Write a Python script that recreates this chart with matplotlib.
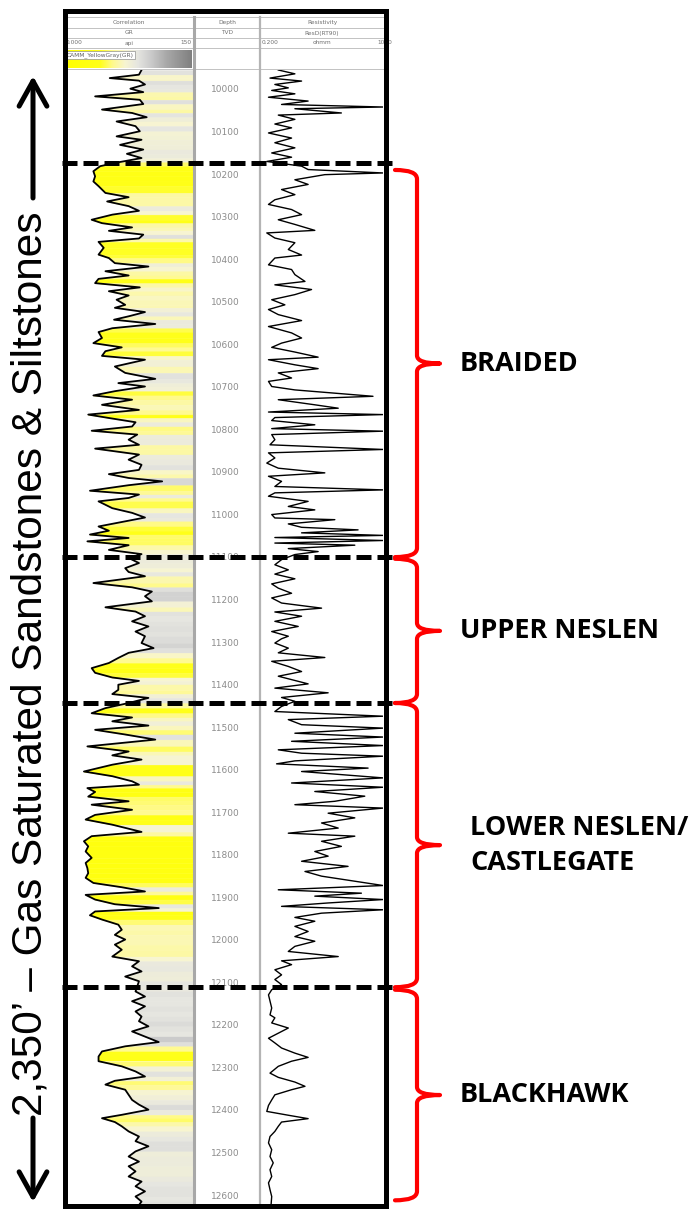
import numpy as np
import matplotlib.pyplot as plt
from matplotlib.colors import LinearSegmentedColormap
from matplotlib.path import Path
from matplotlib.patches import PathPatch, Rectangle

W, H = 698, 1209
TOP_DEPTH, BASE_DEPTH = 9953, 12621

# GR curve (api)
gr_depth = [9953, 9964, 9972, 9978, 9987, 9997, 10005, 10015, 10023, 10033, 10046, 10054, 10064, 10074,
            10085, 10097, 10109, 10117, 10129, 10140, 10150, 10160, 10170, 10179, 10191, 10203, 10215,
            10226, 10242, 10252, 10262, 10273, 10284, 10293, 10305, 10313, 10323, 10331, 10340, 10349,
            10357, 10371, 10387, 10395, 10407, 10415, 10426, 10436, 10444, 10454, 10464, 10473, 10483,
            10493, 10505, 10512, 10522, 10532, 10540, 10550, 10560, 10569, 10583, 10595, 10605, 10614,
            10625, 10634, 10650, 10665, 10679, 10689, 10697, 10708, 10718, 10728, 10740, 10752, 10763,
            10771, 10781, 10791, 10801, 10810, 10822, 10834, 10843, 10857, 10869, 10881, 10893, 10903,
            10912, 10920, 10929, 10942, 10951, 10959, 10967, 10983, 10994, 11005, 11014, 11026, 11036,
            11045, 11053, 11061, 11070, 11081, 11091, 11100, 11112, 11124, 11133, 11143, 11159, 11169,
            11179, 11190, 11202, 11216, 11226, 11237, 11249, 11261, 11273, 11284, 11300, 11312, 11323,
            11335, 11347, 11359, 11370, 11381, 11389, 11398, 11410, 11420, 11429, 11441, 11453, 11465,
            11475, 11484, 11494, 11504, 11515, 11527, 11543, 11555, 11564, 11574, 11586, 11602, 11613,
            11625, 11633, 11641, 11650, 11661, 11672, 11680, 11692, 11704, 11715, 11727, 11744, 11754,
            11766, 11778, 11790, 11805, 11817, 11829, 11841, 11852, 11864, 11874, 11884, 11892, 11903,
            11914, 11923, 11931, 11940, 11950, 11962, 11974, 11986, 11997, 12009, 12021, 12037, 12048,
            12060, 12072, 12084, 12095, 12107, 12119, 12131, 12142, 12154, 12166, 12178, 12189, 12201,
            12213, 12225, 12238, 12248, 12260, 12272, 12283, 12295, 12307, 12319, 12329, 12338, 12350,
            12362, 12374, 12385, 12397, 12409, 12417, 12426, 12436, 12448, 12460, 12471, 12483, 12495,
            12507, 12519, 12530, 12542, 12554, 12566, 12577, 12589, 12601, 12613, 12621]
gr_api = [89, 86, 52, 86, 93, 76, 91, 35, 87, 91, 43, 78, 95, 60,
          82, 87, 60, 89, 64, 91, 72, 89, 62, 41, 33, 35, 33,
          39, 47, 74, 49, 74, 86, 55, 31, 43, 78, 51, 91, 86,
          39, 45, 39, 51, 58, 97, 47, 74, 39, 35, 87, 51, 74,
          60, 70, 58, 93, 74, 57, 105, 55, 39, 43, 33, 66, 47,
          43, 93, 58, 70, 105, 62, 93, 58, 33, 78, 43, 86, 27,
          51, 82, 78, 31, 84, 74, 86, 35, 86, 74, 89, 86, 51,
          74, 113, 74, 29, 86, 74, 39, 55, 78, 93, 70, 39, 51,
          29, 74, 26, 74, 51, 89, 74, 86, 70, 74, 93, 33, 78,
          101, 93, 101, 47, 82, 93, 78, 97, 82, 93, 89, 103, 74,
          62, 51, 31, 35, 55, 86, 62, 62, 55, 97, 74, 47, 31,
          78, 55, 97, 35, 70, 105, 26, 74, 55, 89, 55, 22, 55,
          78, 86, 26, 35, 27, 74, 31, 78, 35, 24, 55, 89, 31,
          22, 27, 24, 31, 24, 26, 27, 24, 33, 66, 93, 24, 35,
          58, 109, 35, 29, 43, 62, 66, 58, 70, 58, 66, 55, 86,
          78, 89, 70, 86, 84, 82, 93, 78, 93, 82, 89, 86, 97,
          78, 93, 109, 70, 43, 39, 39, 66, 82, 93, 58, 47, 70,
          74, 78, 86, 97, 66, 43, 58, 66, 74, 86, 82, 97, 82,
          74, 86, 74, 82, 74, 89, 82, 93, 82, 89, 86]

# deep resistivity (ohmm)
res_depth = [9953, 9962, 9972, 9979, 9987, 9995, 10001, 10009, 10017, 10026, 10034, 10040, 10044, 10054,
             10059, 10069, 10080, 10089, 10101, 10113, 10124, 10136, 10148, 10158, 10168, 10179, 10187,
             10195, 10199, 10211, 10222, 10234, 10246, 10258, 10269, 10281, 10293, 10305, 10316, 10330,
             10336, 10348, 10359, 10375, 10388, 10395, 10411, 10422, 10434, 10450, 10458, 10469, 10481,
             10493, 10505, 10516, 10528, 10542, 10556, 10571, 10583, 10595, 10605, 10616, 10628, 10634,
             10646, 10655, 10665, 10677, 10685, 10697, 10705, 10720, 10728, 10740, 10748, 10757, 10763,
             10770, 10777, 10787, 10796, 10802, 10810, 10822, 10834, 10845, 10853, 10865, 10877, 10889,
             10900, 10908, 10920, 10932, 10940, 10947, 10955, 10967, 10979, 10987, 10998, 11006, 11010,
             11020, 11028, 11034, 11041, 11047, 11052, 11059, 11065, 11070, 11078, 11085, 11092, 11104,
             11116, 11128, 11138, 11149, 11161, 11171, 11183, 11194, 11206, 11218, 11227, 11237, 11249,
             11261, 11273, 11284, 11290, 11300, 11312, 11323, 11334, 11343, 11355, 11367, 11378, 11386,
             11396, 11406, 11417, 11428, 11437, 11449, 11461, 11472, 11480, 11492, 11500, 11512, 11521,
             11531, 11541, 11551, 11559, 11566, 11577, 11584, 11594, 11602, 11617, 11629, 11639, 11649,
             11660, 11672, 11680, 11688, 11700, 11711, 11723, 11735, 11747, 11754, 11766, 11778, 11790,
             11801, 11813, 11825, 11837, 11848, 11860, 11870, 11880, 11888, 11895, 11903, 11911, 11919,
             11927, 11935, 11945, 11954, 11966, 11978, 11990, 12001, 12013, 12025, 12037, 12047, 12056,
             12068, 12080, 12091, 12103, 12115, 12127, 12142, 12158, 12174, 12181, 12193, 12205, 12217,
             12229, 12240, 12252, 12264, 12274, 12283, 12295, 12311, 12321, 12332, 12342, 12350, 12362,
             12374, 12387, 12401, 12410, 12418, 12426, 12436, 12448, 12460, 12475, 12491, 12507, 12522,
             12538, 12554, 12569, 12585, 12601, 12621]
res_ohmm = [0.71, 2.24, 0.40, 3.56, 0.56, 1.42, 0.45, 2.24, 0.36, 5.6, 0.89, 1000, 2.24, 56,
            0.71, 2.24, 0.56, 1.78, 0.36, 1.78, 0.56, 2.24, 0.45, 1.78, 0.32, 3.56, 5.6,
            1000, 17.8, 2.24, 5.6, 0.89, 2.24, 0.56, 0.36, 1.78, 3.56, 0.71, 2.24, 8.9,
            0.32, 0.56, 2.24, 1.42, 3.56, 0.56, 0.36, 1.78, 2.24, 4.5, 0.56, 7.1, 2.24,
            0.45, 1.12, 0.36, 0.71, 3.56, 0.36, 1.78, 3.56, 0.89, 0.45, 2.24, 11.2, 0.36,
            2.24, 11.2, 0.71, 1.78, 0.36, 0.45, 2.24, 500, 0.71, 8.9, 45, 0.36, 1000,
            0.56, 0.45, 8.9, 0.45, 1000, 0.45, 0.56, 0.40, 1000, 0.36, 0.56, 0.32, 0.71,
            17.8, 0.36, 0.89, 0.56, 1000, 0.56, 0.36, 5.6, 1.42, 8.9, 0.45, 0.56, 35.6,
            1.42, 3.56, 178, 3.56, 1000, 0.56, 1000, 0.56, 142, 1.42, 11.2, 2.24, 0.89,
            0.56, 1.42, 0.56, 2.24, 0.45, 0.71, 1.78, 0.45, 0.89, 14.2, 0.56, 3.56, 0.56,
            2.82, 0.45, 1.42, 0.89, 0.56, 1.42, 0.71, 17.8, 0.45, 1.42, 3.56, 0.71, 1.78,
            5.6, 0.56, 22.4, 0.89, 2.24, 0.89, 0.56, 1000, 1.42, 3.56, 1000, 2.24, 1000,
            1.78, 1000, 0.71, 3.56, 1000, 2.24, 0.63, 356, 3.56, 1000, 1.78, 1000, 8.9,
            283, 35.6, 2.24, 1000, 22.4, 142, 14.2, 45, 1.42, 142, 14.2, 56, 8.9,
            22.4, 3.56, 89, 4.5, 14.2, 142, 1000, 0.71, 224, 8.9, 1000, 22.4, 0.89,
            1000, 14.2, 2.24, 8.9, 2.24, 5.6, 2.24, 8.9, 2.24, 1.42, 45, 0.89, 1.78,
            0.56, 0.89, 0.56, 0.89, 0.45, 0.36, 0.40, 0.45, 0.40, 0.56, 0.45, 1.42, 0.71,
            0.36, 0.56, 0.89, 2.24, 5.6, 1.78, 0.71, 0.40, 0.71, 2.24, 4.5, 1.78, 0.56,
            0.45, 0.36, 0.32, 1.42, 5.6, 0.89, 0.71, 0.56, 0.40, 0.36, 0.45, 0.40, 0.50,
            0.40, 0.45, 0.36, 0.40, 0.45, 0.43]

depth_labels = list(range(10000, 12601, 100))
formation_tops = [10172, 11098, 11441, 12109]
zone_names = ["BRAIDED", "UPPER NESLEN", "LOWER NESLEN/\nCASTLEGATE", "BLACKHAWK"]
zone_top = [10188, 11102, 11441, 12115]
zone_base = [11098, 11441, 12109, 12610]
label_x = [460, 460, 470, 460]

gr_cmap = LinearSegmentedColormap.from_list("yellowgray", [
    (0.0, (1.0, 1.0, 0.0)), (0.27, (1.0, 1.0, 0.1)), (0.37, (1.0, 0.98, 0.55)),
    (0.47, (0.97, 0.96, 0.82)), (0.57, (0.90, 0.90, 0.88)), (0.67, (0.80, 0.80, 0.80)),
    (0.8, (0.66, 0.66, 0.66)), (1.0, (0.5, 0.5, 0.5))])


def box(x0, x1, y0=70, y1=1205):
    return [x0 / W, 1 - y1 / H, (x1 - x0) / W, (y1 - y0) / H]


fig = plt.figure(figsize=(W / 100, H / 100), dpi=100)

ax_gr = fig.add_axes(box(65, 194))
ax_dp = fig.add_axes(box(194, 260))
ax_rs = fig.add_axes(box(260, 383))
for ax in (ax_gr, ax_dp, ax_rs):
    ax.set_ylim(BASE_DEPTH, TOP_DEPTH)
    ax.axis("off")

# GR track: coloured fill from curve to the right edge
for i in range(len(gr_depth) - 1):
    c = gr_cmap((gr_api[i] + gr_api[i + 1]) / 2 / 150)
    ax_gr.fill_betweenx(gr_depth[i:i + 2], gr_api[i:i + 2], 150, color=c, lw=0.3, ec=c)
ax_gr.plot(gr_api, gr_depth, color="k", lw=1.3)
ax_gr.set_xlim(0, 150)

ax_dp.set_xlim(0, 1)
for d in depth_labels:
    ax_dp.text(0.47, d, str(d), ha="center", va="center", fontsize=6.5, color="#8c8c8c")

ax_rs.plot(res_ohmm, res_depth, color="k", lw=1.0)
ax_rs.set_xscale("log")
ax_rs.set_xlim(0.2, 1000)

# pixel overlay for header, frame, arrows
ax_px = fig.add_axes([0, 0, 1, 1], zorder=5)
ax_px.set_xlim(0, W)
ax_px.set_ylim(H, 0)
ax_px.axis("off")

grid_c = "#b8b8b8"
for y in [17, 28, 38, 48, 69]:
    ax_px.plot([64, 386], [y, y], color=grid_c, lw=0.6)
ax_px.plot([194, 194], [17, 1205], color="#a8a8a8", lw=2.2)
ax_px.plot([260, 260], [17, 1205], color="#b4b4b4", lw=1.6)

hdr = dict(fontsize=4.2, color="#707070", va="center")
ax_px.text(129, 22.5, "Correlation", ha="center", **hdr)
ax_px.text(227, 22.5, "Depth", ha="center", **hdr)
ax_px.text(322, 22.5, "Resistivity", ha="center", **hdr)
ax_px.text(129, 33, "GR", ha="center", **hdr)
ax_px.text(227, 33, "TVD", ha="center", **hdr)
ax_px.text(322, 33, "ResD(RT90)", ha="center", **hdr)
ax_px.text(66, 43, "0.000", ha="left", **hdr)
ax_px.text(129, 43, "api", ha="center", **hdr)
ax_px.text(192, 43, "150", ha="right", **hdr)
ax_px.text(262, 43, "0.200", ha="left", **hdr)
ax_px.text(322, 43, "ohmm", ha="center", **hdr)
ax_px.text(392, 43, "1000", ha="right", **hdr)

grad = np.linspace(0, 1, 256)[None, :]
ax_px.imshow(grad, cmap=gr_cmap, extent=(66, 192, 68, 50), aspect="auto", zorder=1)
ax_px.text(67, 55, "CAMM_YellowGray(GR)", ha="left", fontsize=4.2, color="#606060", va="center",
           bbox=dict(boxstyle="square,pad=0.15", fc="white", ec="#909090", lw=0.5))

ax_px.add_patch(Rectangle((64.5, 10.5), 321, 1195, fill=False, ec="k", lw=3.6, zorder=4))

arrow = dict(arrowstyle="->,head_length=0.9,head_width=0.5", lw=3.6, color="k",
             shrinkA=0, shrinkB=0, mutation_scale=20)
ax_px.annotate("", xy=(33, 76), xytext=(33, 198), arrowprops=arrow)
ax_px.annotate("", xy=(33, 1202), xytext=(33, 1118), arrowprops=arrow)
ax_px.text(31, 664, "2,350\u2019 \u2013 Gas Saturated Sandstones & Siltstones", rotation=90,
           ha="center", va="center", fontsize=30.5, family="Liberation Sans")

# overlay in depth coordinates: formation tops, braces, zone names
ax_ov = fig.add_axes(box(0, W), zorder=6)
ax_ov.set_xlim(0, W)
ax_ov.set_ylim(BASE_DEPTH, TOP_DEPTH)
ax_ov.axis("off")
ax_ov.hlines(formation_tops, 62, 393, colors="k", lw=3.6, linestyles=(0, (3, 1.2)))

ft = 1 / 0.4254  # feet per pixel
for name, d0, d1, lx in zip(zone_names, zone_top, zone_base, label_x):
    dm = (d0 + d1) / 2
    verts = [(395, d0), (417, d0), (417, d0 + 9 * ft), (417, dm - 8 * ft), (417, dm), (440, dm),
             (417, dm), (417, dm + 8 * ft), (417, d1 - 9 * ft), (417, d1), (395, d1)]
    codes = [Path.MOVETO, Path.CURVE3, Path.CURVE3, Path.LINETO, Path.CURVE3, Path.CURVE3,
             Path.CURVE3, Path.CURVE3, Path.LINETO, Path.CURVE3, Path.CURVE3]
    ax_ov.add_patch(PathPatch(Path(verts, codes), fc="none", ec="#ff0000", lw=3.0,
                              capstyle="round", joinstyle="round"))
    ax_ov.text(lx, dm, name, ha="left", va="center", fontsize=19.5, fontweight="bold",
               family="Open Sans", linespacing=1.45)

fig.savefig("out.png", dpi=100)
